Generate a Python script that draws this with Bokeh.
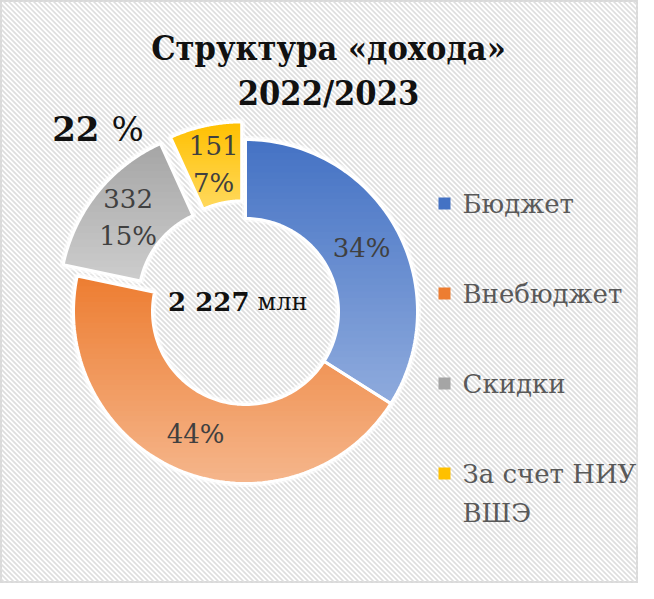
import numpy as np
from bokeh.plotting import figure
from bokeh.models import Range1d, ColumnDataSource, BoxAnnotation
from bokeh.core.properties import value
from bokeh.embed import file_html
from bokeh.resources import INLINE

# ---------------- data ----------------
categories = ["Бюджет", "Внебюджет", "Скидки", "За счет НИУ ВШЭ"]
legend_lines = [["Бюджет"], ["Внебюджет"], ["Скидки"], ["За счет НИУ", "ВШЭ"]]
values = [757, 987, 332, 151]
show_value = [False, False, True, True]
exploded = [False, False, True, True]
total_label = "2 227"
total_unit = "млн"
share_label = "22"
title_lines = ["Структура «дохода»", "2022/2023"]
colors_top = ["#4472C4", "#ED7D31", "#A5A5A5", "#FFC000"]
colors_bottom = ["#8FABDD", "#F5B68C", "#CDCDCD", "#FFD95E"]

SERIF = "DejaVu Serif"
TITLE_FONT = "DejaVu Serif Condensed"

# ---------------- figure ----------------
W, H = 638, 583
p = figure(width=W, height=H, x_range=Range1d(0, 638), y_range=Range1d(16, 599),
           output_backend="svg", toolbar_location=None,
           x_axis_location=None, y_axis_location=None, min_border=0)
p.grid.visible = False
p.background_fill_color = "white"
p.border_fill_color = "white"
p.outline_line_color = "#D9D9D9"
p.outline_line_width = 3

def Y(img_y):
    return 599 - img_y

# diagonal hatch background (decoration)
pitch = 5.0
starts = np.arange(-583, 640, pitch)
hx0 = starts; hy0 = np.full_like(starts, 599.0)
hx1 = starts + 600; hy1 = np.full_like(starts, -1.0)
p.segment(x0=hx0, y0=hy0, x1=hx1, y1=hy1, line_color="#DEDEDE", line_width=1.7)

leg_box = BoxAnnotation(left=428, right=638, bottom=Y(545), top=Y(162), fill_color="white",
                        fill_alpha=0.35, line_alpha=0, level="underlay")
p.add_layout(leg_box)

# ---------------- donut geometry ----------------
cx, cy = 245, Y(311)
R_out, R_in, EXPL = 172, 93, 18
vals = np.array(values, dtype=float)
fr = vals / vals.sum()
cum = np.concatenate([[0], np.cumsum(fr)])

def clip(poly, y0, keep_above):
    out = []
    n = len(poly)
    for i in range(n):
        a = poly[i]; b = poly[(i + 1) % n]
        ina = a[1] >= y0 if keep_above else a[1] <= y0
        inb = b[1] >= y0 if keep_above else b[1] <= y0
        if ina:
            out.append(a)
        if ina != inb:
            t = (y0 - a[1]) / (b[1] - a[1])
            out.append((a[0] + t * (b[0] - a[0]), y0))
    return out

def hex2rgb(h):
    h = h.lstrip("#")
    return np.array([int(h[i:i + 2], 16) for i in (0, 2, 4)], dtype=float)

def rgb2hex(c):
    return "#%02x%02x%02x" % tuple(int(round(v)) for v in c)

# white disc behind the hole region (donut hole shows hatch; keep as is)
band_xs, band_ys, band_col = [], [], []
out_xs, out_ys = [], []
lab_x, lab_y = [], []
for i in range(len(values)):
    a1 = np.pi / 2 - 2 * np.pi * cum[i]
    a2 = np.pi / 2 - 2 * np.pi * cum[i + 1]
    am = (a1 + a2) / 2
    ox, oy = (EXPL * np.cos(am), EXPL * np.sin(am)) if exploded[i] else (0.0, 0.0)
    t = np.linspace(a1, a2, 90)
    px = np.concatenate([cx + ox + R_out * np.cos(t), cx + ox + R_in * np.cos(t[::-1])])
    py = np.concatenate([cy + oy + R_out * np.sin(t), cy + oy + R_in * np.sin(t[::-1])])
    poly = list(zip(px, py))
    out_xs.append(list(px)); out_ys.append(list(py))
    ymax, ymin = py.max(), py.min()
    K = 40
    edges = np.linspace(ymax, ymin, K + 1)
    c0, c1 = hex2rgb(colors_top[i]), hex2rgb(colors_bottom[i])
    for k in range(K):
        top_e, bot_e = edges[k], edges[k + 1] - 0.8
        pp = clip(clip(poly, top_e, False), bot_e, True)
        if len(pp) < 3:
            continue
        band_xs.append([q[0] for q in pp]); band_ys.append([q[1] for q in pp])
        band_col.append(rgb2hex(c0 + (c1 - c0) * (k + 0.5) / K))
    rm = (R_out + R_in) / 2
    lab_x.append(cx + ox + rm * np.cos(am)); lab_y.append(cy + oy + rm * np.sin(am))

p.patches(xs=out_xs, ys=out_ys, fill_alpha=0, line_color="white", line_width=7, line_alpha=0.6)
p.patches(xs="xs", ys="ys", fill_color="c", line_color=None,
          source=ColumnDataSource(dict(xs=band_xs, ys=band_ys, c=band_col)))
p.patches(xs=out_xs, ys=out_ys, fill_alpha=0, line_color="white", line_width=3)

# data labels
pct = [f"{round(f * 100):.0f}%" for f in fr]
lx1, ly1, lt1 = [], [], []
for i in range(len(values)):
    if show_value[i]:
        lx1 += [lab_x[i], lab_x[i]]
        ly1 += [lab_y[i] + 19, lab_y[i] - 19]
        lt1 += [str(values[i]), pct[i]]
    else:
        lx1.append(lab_x[i]); ly1.append(lab_y[i]); lt1.append(pct[i])
p.text(x=lx1, y=ly1, text=lt1, text_font=value(SERIF), text_font_size="26px",
       text_color="#404040", text_align="center", text_baseline="middle")

# centre total
p.text(x=[cx + 4], y=[cy + 10], text=[total_label], text_font=value(SERIF),
       text_font_style="bold", text_font_size="26px", text_color="#111111",
       text_align="right", text_baseline="middle")
p.text(x=[cx + 12], y=[cy + 10], text=[total_unit], text_font=value(SERIF),
       text_font_size="24px", text_color="#111111", text_align="left", text_baseline="middle")

# "22 %"
p.text(x=[99], y=[Y(128)], text=[share_label], text_font=value(SERIF), text_font_style="bold",
       text_font_size="34px", text_color="#111111", text_align="right", text_baseline="middle")
p.text(x=[111], y=[Y(128)], text=["%"], text_font=value(SERIF),
       text_font_size="34px", text_color="#111111", text_align="left", text_baseline="middle")

# title
p.text(x=[328, 328], y=[Y(47), Y(92)], text=title_lines, text_font=value(TITLE_FONT),
       text_font_style="bold", text_font_size="34px", text_color="#111111",
       text_align="center", text_baseline="middle")

# legend
leg_y0, leg_dy, line_h = 203, 90, 39
sq_x, sq_y, sq_c = [], [], []
tx, ty, tt = [], [], []
for i, lines in enumerate(legend_lines):
    yy = leg_y0 + i * leg_dy
    sq_x.append(444); sq_y.append(Y(yy)); sq_c.append(colors_top[i])
    for j, s in enumerate(lines):
        tx.append(462); ty.append(Y(yy + j * line_h)); tt.append(s)
p.scatter(x=sq_x, y=sq_y, marker="square", size=12, fill_color=sq_c, line_color=None)
p.text(x=tx, y=ty, text=tt, text_font=value(SERIF), text_font_size="26px",
       text_color="#595959", text_align="left", text_baseline="middle")

open("out.html", "w").write(file_html(p, INLINE))
